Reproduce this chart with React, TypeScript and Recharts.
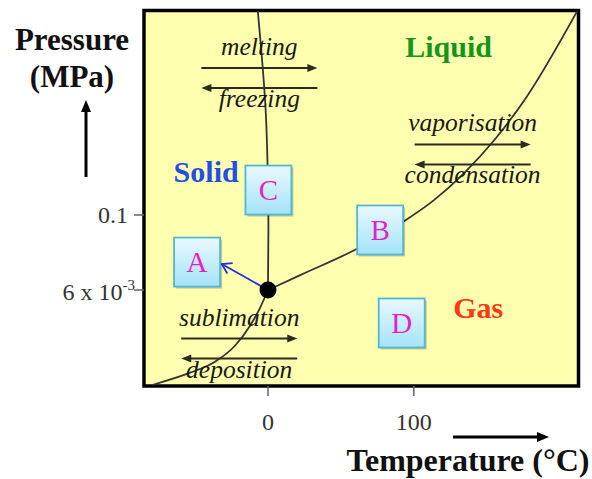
import React from "react";
import { ComposedChart, Line, Scatter, XAxis, YAxis, ReferenceArea } from "recharts";

const serif = '"Liberation Serif", "Times New Roman", serif';

// axis ticks
const tempTicks = [0, 100];
const pressureTicks = [0.006, 0.1];

// phase boundaries (T in °C, P in MPa, log scale)
const sublimationT = [-79.3, -53.8, -36.6, -22.8, -12.4, -5.5, 0];
const sublimationP = [1.7e-4, 2.67e-4, 4.03e-4, 7.34e-4, 1.56e-3, 3.05e-3, 0.006];
const meltingT = [0, 0.3, -0.2, -1.6, -4.3, -7.0];
const meltingP = [0.006, 0.06, 0.541, 5.14, 40.5, 214];
const vaporT = [0, 22.1, 62.1, 92.4, 113.8, 134.5, 155.2, 175.9, 212];
const vaporP = [0.006, 0.0105, 0.029, 0.0769, 0.175, 0.483, 1.67, 7.48, 210];

const tripleT = [0];
const tripleP = [0.006];

// state boxes
const stateNames = ["A", "B", "C", "D"];
const stateT = [-48.6, 76.9, 0.3, 91.7];
const stateP = [0.0171, 0.057, 0.255, 1.74e-3];

// blue arrow triple point -> A
const pointerT = [0, -31.7];
const pointerP = [0.006, 0.0159];

const phaseNames = ["Solid", "Liquid", "Gas"];
const phaseT = [-42.4, 123.8, 144.1];
const phaseP = [0.345, 37.5, 2.1e-3];

const forwardNames = ["melting", "vaporisation", "sublimation"];
const backwardNames = ["freezing", "condensation", "deposition"];
const processT = [-5.9, 140.3, -19.7];
const processP = [17.06, 0.968, 6.68e-4];

const zip = (ts: number[], ps: number[]) => ts.map((T, i) => ({ T, P: ps[i] }));

const phaseColors: Record<string, string> = {
  Solid: "#1f4fe8",
  Liquid: "#139619",
  Gas: "#ff3a12",
};

const T_MIN = -85;
const T_MAX = 212.9;
const P_MIN = 1.637e-4;
const P_MAX = 214.8;

const head = (x: number, y: number, dir: 1 | -1, len = 10, half = 4) =>
  `${x},${y} ${x - dir * len},${y - half} ${x - dir * len},${y + half}`;

function PressureTick(props: any) {
  const { x, y, payload } = props;
  if (payload.value === 0.006) {
    return (
      <text x={x + 3} y={y} dy={10} textAnchor="end" fontFamily={serif} fontSize={24} fill="#333">
        6 x 10<tspan dy={-10} fontSize={15}>-3</tspan>
      </text>
    );
  }
  return (
    <text x={x - 4} y={y} dy={8} textAnchor="end" fontFamily={serif} fontSize={24} fill="#333">
      {payload.value}
    </text>
  );
}

function StateBox(props: any) {
  const { cx, cy, payload } = props;
  const w = 46;
  const h = 49;
  return (
    <g>
      <rect x={cx - w / 2 + 2} y={cy - h / 2 + 2} width={w} height={h} fill="rgba(0,0,0,0.22)" />
      <rect
        x={cx - w / 2}
        y={cy - h / 2}
        width={w}
        height={h}
        fill="url(#boxGrad)"
        stroke="#52b6d6"
        strokeWidth={1.8}
      />
      <text x={cx} y={cy + 10} textAnchor="middle" fontFamily={serif} fontSize={29} fill="#e61fc9">
        {payload.name}
      </text>
    </g>
  );
}

function TripleDot(props: any) {
  const { cx, cy } = props;
  return (
    <g>
      <defs>
        <linearGradient id="boxGrad" x1="0" y1="0" x2="0" y2="1">
          <stop offset="0%" stopColor="#e9f9ff" />
          <stop offset="100%" stopColor="#a3e3f8" />
        </linearGradient>
      </defs>
      <circle cx={cx} cy={cy} r={8.5} fill="#000" />
    </g>
  );
}

function PhaseLabel(props: any) {
  const { cx, cy, payload } = props;
  return (
    <text x={cx} y={cy} textAnchor="middle" fontFamily={serif} fontWeight="bold" fontSize={30} fill={phaseColors[payload.name]}>
      {payload.name}
    </text>
  );
}

function ProcessPair(props: any) {
  const { cx, cy, payload } = props;
  const half = 58;
  const c = "#2b2b1e";
  return (
    <g>
      <text x={cx} y={cy - 23} textAnchor="middle" fontFamily={serif} fontStyle="italic" fontSize={25.5} fill="#1a1a10">
        {payload.forward}
      </text>
      <line x1={cx - half} y1={cy - 10} x2={cx + half - 8} y2={cy - 10} stroke={c} strokeWidth={2} />
      <polygon points={head(cx + half, cy - 10, 1)} fill={c} />
      <line x1={cx - half + 8} y1={cy + 10} x2={cx + half} y2={cy + 10} stroke={c} strokeWidth={2} />
      <polygon points={head(cx - half, cy + 10, -1)} fill={c} />
      <text x={cx} y={cy + 29} textAnchor="middle" fontFamily={serif} fontStyle="italic" fontSize={25.5} fill="#1a1a10">
        {payload.backward}
      </text>
    </g>
  );
}

function PointerHead(props: any) {
  const { cx, cy, index } = props;
  if (index !== 1) return <g key={`ph-${index}`} />;
  const back = Math.atan2(21, 40);
  const a = (32 * Math.PI) / 180;
  const len = 11;
  const p1 = [cx + len * Math.cos(back - a), cy + len * Math.sin(back - a)];
  const p2 = [cx + len * Math.cos(back + a), cy + len * Math.sin(back + a)];
  return (
    <path
      key={`ph-${index}`}
      d={`M${p1[0]},${p1[1]} L${cx},${cy} L${p2[0]},${p2[1]}`}
      fill="none"
      stroke="#2233dd"
      strokeWidth={1.8}
    />
  );
}

export default function App() {
  const states = stateNames.map((name, i) => ({ name, T: stateT[i], P: stateP[i] }));
  const phases = phaseNames.map((name, i) => ({ name, T: phaseT[i], P: phaseP[i] }));
  const processes = forwardNames.map((forward, i) => ({
    forward,
    backward: backwardNames[i],
    T: processT[i],
    P: processP[i],
  }));

  return (
    <div style={{ position: "absolute", left: 0, top: 0, width: 592, height: 479, background: "#fff" }}>
      <ComposedChart width={592} height={479} margin={{ top: 10.5, right: 13.5, left: 0, bottom: 0 }}>
        <XAxis
          dataKey="T"
          type="number"
          domain={[T_MIN, T_MAX]}
          allowDataOverflow
          ticks={tempTicks}
          height={93}
          axisLine={false}
          tickSize={10}
          tickMargin={17}
          tickLine={{ stroke: "#666", strokeWidth: 1.5 }}
          tick={{ fontFamily: serif, fontSize: 24, fill: "#333" }}
        />
        <YAxis
          dataKey="P"
          type="number"
          scale="log"
          domain={[P_MIN, P_MAX]}
          allowDataOverflow
          ticks={pressureTicks}
          width={144}
          axisLine={false}
          tickSize={10}
          tickLine={{ stroke: "#666", strokeWidth: 1.5 }}
          tick={<PressureTick />}
        />
        <ReferenceArea x1={T_MIN} x2={T_MAX} y1={P_MIN} y2={P_MAX} fill="#ffffb0" fillOpacity={1} stroke="#000" strokeWidth={3.5} />
        <Line data={zip(sublimationT, sublimationP)} dataKey="P" type="monotoneX" stroke="#333" strokeWidth={1.8} dot={false} activeDot={false} isAnimationActive={false} />
        <Line data={zip(meltingT, meltingP)} dataKey="P" type="monotoneY" stroke="#333" strokeWidth={1.8} dot={false} activeDot={false} isAnimationActive={false} />
        <Line data={zip(vaporT, vaporP)} dataKey="P" type="monotoneX" stroke="#333" strokeWidth={1.8} dot={false} activeDot={false} isAnimationActive={false} />
        <Scatter data={processes} dataKey="P" shape={<ProcessPair />} isAnimationActive={false} />
        <Line data={zip(pointerT, pointerP)} dataKey="P" type="linear" stroke="#2233dd" strokeWidth={1.8} dot={<PointerHead />} activeDot={false} isAnimationActive={false} />
        <Scatter data={zip(tripleT, tripleP)} dataKey="P" shape={<TripleDot />} isAnimationActive={false} />
        <Scatter data={states} dataKey="P" shape={<StateBox />} isAnimationActive={false} />
        <Scatter data={phases} dataKey="P" shape={<PhaseLabel />} isAnimationActive={false} />
        <g>
          <text x={72} y={50} textAnchor="middle" fontFamily={serif} fontWeight="bold" fontSize={31} fill="#111">
            Pressure
          </text>
          <text x={72} y={87} textAnchor="middle" fontFamily={serif} fontWeight="bold" fontSize={31} fill="#111">
            (MPa)
          </text>
          <line x1={86} y1={177} x2={86} y2={110} stroke="#000" strokeWidth={3} />
          <polygon points="86,100 81,112 91,112" fill="#000" />
          <line x1={453} y1={437} x2={538} y2={437} stroke="#000" strokeWidth={3} />
          <polygon points="549,437 537,432 537,442" fill="#000" />
          <text x={468} y={471} textAnchor="middle" fontFamily={serif} fontWeight="bold" fontSize={32} fill="#111">
            Temperature (°C)
          </text>
        </g>
      </ComposedChart>
    </div>
  );
}
